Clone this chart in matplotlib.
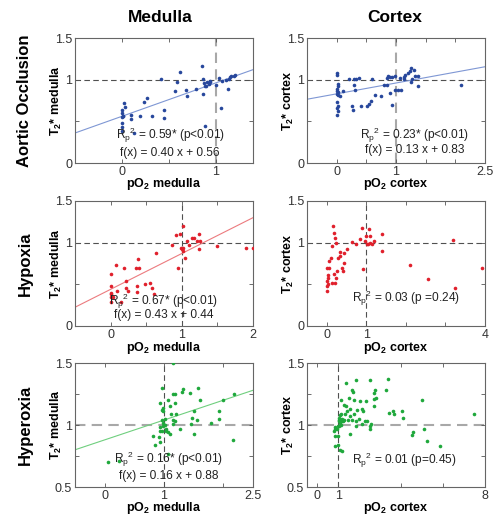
import numpy as np
import matplotlib
matplotlib.use('Agg')
import matplotlib.pyplot as plt
from matplotlib.ticker import FixedLocator, FuncFormatter

plt.rcParams['font.family'] = ['Liberation Sans', 'DejaVu Sans']
plt.rcParams['mathtext.fontset'] = 'custom'
plt.rcParams['mathtext.rm'] = 'Liberation Sans'
plt.rcParams['mathtext.it'] = 'Liberation Sans:italic'
plt.rcParams['mathtext.bf'] = 'Liberation Sans:bold'
plt.rcParams['mathtext.default'] = 'regular'

# ---------------- data ----------------
# aortic occlusion, medulla
ao_med_x = [0.02, 0.03, 0.0, 0.0, 0.01, 0.0, 0.01, 0.0, 0.0, 0.0, 0.10, 0.10, 0.19, 0.32, 0.45,
            0.45, 0.24, 0.27, 0.13, 0.42, 0.57, 0.62, 0.59, 0.68, 0.70, 0.79, 0.87, 0.86, 0.87,
            0.88, 0.89, 0.91, 0.93, 0.94, 0.94, 0.90, 1.00, 1.04, 1.07, 1.06, 0.89, 1.13, 1.11,
            1.14, 1.15, 1.17, 1.20, 1.21]
ao_med_y = [0.72, 0.67, 0.64, 0.60, 0.57, 0.55, 0.56, 0.48, 0.43, 0.39, 0.58, 0.53, 0.56, 0.56, 0.64,
            0.54, 0.73, 0.78, 0.36, 1.01, 0.87, 1.09, 0.97, 0.88, 0.80, 0.89, 0.83, 1.16, 1.01,
            0.96, 0.93, 0.97, 0.95, 0.99, 0.97, 0.92, 0.94, 1.02, 0.99, 0.66, 0.45, 0.89, 1.00,
            1.01, 1.03, 1.04, 1.05, 1.06]
# aortic occlusion, cortex
ao_cor_x = [0, 0, 0.02, 0.02, 0, 0, 0.02, 0, 0.03, 0.06, 0.10, 0, 0.02, 0, 0.02, 0, 0.21, 0.30,
            0.33, 0.37, 0.30, 0.31, 0.60, 0.26, 0.27, 0.41, 0.51, 0.55, 0.58, 0.65, 0.75, 0.80,
            0.85, 0.90, 0.94, 0.85, 0.87, 0.90, 0.94, 0.98, 0.99, 1.04, 1.08, 1.06, 1.13, 1.16,
            1.20, 1.24, 1.25, 1.30, 1.25, 1.27, 1.32, 1.37, 1.37, 2.10, 1.14]
ao_cor_y = [1.08, 1.06, 0.95, 0.92, 0.89, 0.87, 0.85, 0.83, 0.82, 0.80, 0.86, 0.73, 0.69, 0.66,
            0.62, 0.58, 1.01, 1.01, 1.01, 1.02, 0.94, 0.88, 1.01, 0.69, 0.64, 0.68, 0.68, 0.71,
            0.75, 0.82, 0.81, 0.94, 0.94, 0.84, 0.70, 1.02, 1.04, 1.03, 1.03, 1.04, 0.88, 0.88,
            0.88, 1.02, 1.03, 1.06, 1.08, 1.10, 1.14, 1.12, 0.97, 1.01, 1.04, 1.04, 0.93, 0.94,
            1.01]
# hypoxia, medulla
hy_med_x = [0, 0, 0, 0, 0, 0, 0.04, 0.07, 0.09, 0.15, 0.19, 0.22, 0.21, 0.25, 0.36, 0.39, 0.40,
            0.37, 0.37, 0.48, 0.56, 0.58, 0.61, 0.64, 0.86, 0.92, 0.98, 1.01, 0.95, 0.99, 1.00,
            1.02, 1.01, 1.05, 1.07, 1.10, 1.14, 1.17, 1.24, 1.21, 1.26, 1.24, 1.49, 1.90, 2.0]
hy_med_y = [0.62, 0.48, 0.40, 0.38, 0.35, 0.29, 0.35, 0.73, 0.42, 0.29, 0.70, 0.54, 0.46, 0.42,
            0.70, 0.80, 0.70, 0.48, 0.41, 0.50, 0.52, 0.46, 0.39, 0.88, 0.97, 1.09, 1.10, 1.20,
            0.70, 0.94, 0.93, 0.94, 0.90, 0.82, 1.02, 0.97, 1.06, 1.06, 1.10, 1.02, 1.02, 0.93,
            0.96, 0.94, 0.94]
# hypoxia, cortex
hy_cor_x = [0, 0, 0.02, 0, 0.02, 0.03, 0, 0.06, 0.06, 0.10, 0.12, 0.16, 0.17, 0.20, 0.23, 0.17,
            0.23, 0.20, 0.13, 0.27, 0.29, 0.33, 0.34, 0.39, 0.41, 0.44, 0.44, 0.50, 0.65, 0.73,
            0.84, 0.88, 0.92, 0.96, 1.0, 1.01, 1.04, 1.08, 1.10, 1.09, 1.15, 1.19, 1.39, 1.40,
            2.10, 2.56, 3.19, 3.25, 3.92]
hy_cor_y = [0.42, 0.48, 0.50, 0.54, 0.58, 0.61, 0.70, 0.70, 0.78, 0.82, 0.96, 1.20, 1.12, 1.06,
            1.00, 0.62, 0.58, 0.52, 0.52, 0.66, 0.82, 0.84, 0.89, 0.70, 0.66, 0.76, 0.88, 0.92,
            1.01, 0.99, 1.05, 1.18, 0.68, 1.02, 1.08, 0.98, 0.98, 1.17, 1.08, 1.00, 0.99, 1.02,
            1.10, 0.90, 0.73, 0.57, 1.03, 0.46, 0.70]
# hyperoxia, medulla
hr_med_x = [0.06, 0.24, 1.15, 0.97, 0.94, 0.98, 0.96, 0.99, 1.01, 0.97, 0.99, 0.98, 1.01, 1.03,
            0.94, 0.93, 0.97, 1.03, 1.07, 0.91, 0.81, 0.84, 0.94, 1.06, 1.10, 1.07, 1.10, 1.15,
            1.18, 1.18, 1.15, 1.18, 1.21, 1.11, 1.15, 1.27, 1.30, 1.32, 1.44, 1.57, 1.51, 1.45,
            1.48, 1.56, 1.51, 1.61, 1.79, 1.92, 1.92, 1.99, 2.18, 2.16]
hr_med_y = [0.70, 0.71, 1.50, 1.30, 1.18, 1.14, 1.12, 1.11, 1.05, 1.04, 1.02, 0.99, 1.00, 0.97,
            0.98, 0.95, 0.95, 0.95, 0.94, 0.90, 0.91, 0.84, 0.86, 0.77, 0.93, 1.20, 1.15, 1.25,
            1.25, 1.18, 1.04, 1.03, 1.09, 1.09, 1.01, 0.97, 1.27, 1.29, 1.26, 1.30, 1.11, 1.01,
            1.06, 1.04, 0.93, 1.20, 1.02, 1.11, 1.05, 1.20, 1.25, 0.88]
# hyperoxia, cortex
hr_cor_x = [0.86, 0.81, 0.86, 0.94, 0.97, 1.02, 1.10, 1.06, 1.14, 1.17, 1.22, 1.29, 0.86, 0.97,
            0.83, 0.97, 1.06, 1.17, 1.02, 1.06, 1.14, 1.02, 1.02, 1.10, 1.14, 1.38, 1.41, 1.49,
            1.38, 1.65, 1.68, 1.57, 1.57, 1.45, 1.73, 1.85, 1.89, 1.86, 2.00, 2.13, 2.18, 2.05,
            2.29, 2.34, 2.37, 2.50, 2.53, 2.53, 2.69, 2.72, 2.80, 2.74, 2.69, 2.58, 3.29, 3.36,
            3.40, 3.61, 3.67, 4.04, 4.09, 2.13, 1.76, 1.30, 1.25, 1.54, 1.06, 1.65, 1.86, 5.11,
            5.00, 4.57, 4.52, 5.24, 5.87, 7.46]
hr_cor_y = [0.97, 0.95, 0.98, 0.97, 0.99, 0.99, 1.00, 1.02, 1.03, 1.05, 1.03, 1.04, 0.91, 0.91,
            0.83, 0.84, 0.80, 0.79, 1.04, 1.05, 1.09, 1.06, 1.03, 1.20, 1.03, 1.15, 1.11, 1.22,
            1.34, 1.28, 1.27, 1.07, 0.93, 1.04, 1.09, 1.36, 1.12, 1.03, 1.05, 1.13, 1.11, 1.19,
            1.03, 1.19, 1.03, 1.36, 0.99, 0.97, 1.15, 1.21, 1.22, 1.28, 1.26, 1.01, 1.28, 1.37,
            1.10, 1.11, 1.09, 1.11, 1.06, 1.01, 1.20, 1.09, 1.16, 1.13, 1.08, 1.04, 0.99, 0.97,
            1.20, 0.94, 0.92, 0.87, 0.83, 1.09]

row_names = ['Aortic Occlusion', 'Hypoxia', 'Hyperoxia']
col_names = ['Medulla', 'Cortex']
tissue = ['medulla', 'cortex']

# per panel: x data, y data, xlim, xticks, labelled xticks, ylim, yticks, labelled yticks
panels = [
    [ao_med_x, ao_med_y, (-0.5, 1.4), [0, 0.5, 1], [0, 1], (0, 1.5), [0, 0.5, 1, 1.5], [0, 1, 1.5]],
    [ao_cor_x, ao_cor_y, (-0.5, 2.5), [0, 0.5, 1, 1.5, 2, 2.5], [0, 1, 2.5], (0, 1.5), [0, 0.5, 1, 1.5], [0, 1, 1.5]],
    [hy_med_x, hy_med_y, (-0.5, 2.0), [0, 0.5, 1, 1.5, 2], [0, 1, 2], (0, 1.5), [0, 0.5, 1, 1.5], [0, 1, 1.5]],
    [hy_cor_x, hy_cor_y, (-0.5, 4.0), [0, 1, 2, 3, 4], [0, 1, 4], (0, 1.5), [0, 0.5, 1, 1.5], [0, 1, 1.5]],
    [hr_med_x, hr_med_y, (-0.5, 2.5), [0, 1, 2, 2.5], [0, 1, 2.5], (0.5, 1.5), [0.5, 0.75, 1, 1.25, 1.5], [0.5, 1, 1.5]],
    [hr_cor_x, hr_cor_y, (-0.5, 8.0), [0, 1, 4, 6, 8], [0, 1, 8], (0.5, 1.5), [0.5, 0.75, 1, 1.25, 1.5], [0.5, 1, 1.5]],
]
fit_slope = [0.40, 0.13, 0.43, None, 0.16, None]
fit_icpt = [0.56, 0.83, 0.44, None, 0.88, None]
stats_txt = [
    ['R$_p$$^2$ = 0.59* (p<0.01)', 'f(x) = 0.40 x + 0.56'],
    ['R$_p$$^2$ = 0.23* (p<0.01)', 'f(x) = 0.13 x + 0.83'],
    ['R$_p$$^2$ = 0.67* (p<0.01)', 'f(x) = 0.43 x + 0.44'],
    ['R$_p$$^2$ = 0.03 (p =0.24)'],
    ['R$_p$$^2$ = 0.16* (p<0.01)', 'f(x) = 0.16 x + 0.88'],
    ['R$_p$$^2$ = 0.01 (p=0.45)'],
]
txt_pos = [(0.534, 0.224, 0.08), (0.605, 0.224, 0.10), (0.498, 0.2, 0.085),
           (0.555, 0.224, None), (0.526, 0.22, 0.09), (0.545, 0.218, None)]

dot_col = ['#27479c', '#e0202c', '#1fa83c']
line_col = ['#7f97d4', '#ec7b7f', '#6fcf7e']

# dashed reference line style: (vertical, horizontal) -> light & thick or dark & thin
light = dict(color='#a8a8a8', lw=1.5, dashes=(5, 3))
dark = dict(color='#505050', lw=0.8, dashes=(5, 3))
ref_style = [(light, dark), (light, dark), (dark, dark), (dark, dark), (dark, light), (dark, light)]

fig = plt.figure(figsize=(5.02, 5.17), dpi=100)
W, H = 502.0, 517.0
col_left = [75, 307]
row_top = [38, 201, 363]
row_h = [125, 125, 124]
ax_w = 178

for i, p in enumerate(panels):
    r, c = divmod(i, 2)
    xs, ys, xlim, xt, xl, ylim, yt, yl = p
    ax = fig.add_axes([col_left[c] / W, 1 - (row_top[r] + row_h[r]) / H, ax_w / W, row_h[r] / H])
    vs, hs = ref_style[i]
    ax.axvline(1, zorder=1, **vs)
    ax.axhline(1, zorder=1, **hs)
    if fit_slope[i] is not None:
        xx = np.array(xlim)
        ax.plot(xx, fit_slope[i] * xx + fit_icpt[i], color=line_col[r], lw=0.8, zorder=2)
    ax.plot(xs, ys, 'o', ms=2.6, color=dot_col[r], mec='none', zorder=3)
    ax.set_xlim(xlim)
    ax.set_ylim(ylim)
    ax.xaxis.set_major_locator(FixedLocator(xt))
    ax.yaxis.set_major_locator(FixedLocator(yt))
    ax.xaxis.set_major_formatter(FuncFormatter(lambda v, pos, keep=xl: ('%g' % v) if any(abs(v - k) < 1e-9 for k in keep) else ''))
    ax.yaxis.set_major_formatter(FuncFormatter(lambda v, pos, keep=yl: ('%g' % v) if any(abs(v - k) < 1e-9 for k in keep) else ''))
    ax.tick_params(direction='in', top=True, right=True, length=3, width=0.6,
                   colors='#555555', labelcolor='#333333', labelsize=9, pad=2)
    for s in ax.spines.values():
        s.set_color('#666666')
        s.set_linewidth(0.8)
    ax.set_xlabel('pO$_\\mathbf{2}$ ' + tissue[c], fontsize=9, fontweight='bold', va='center')
    ax.set_ylabel('T$_\\mathbf{2}$* ' + tissue[c], fontsize=9, fontweight='bold', va='center')
    ax.xaxis.set_label_coords(0.5, -21.5 / row_h[r])
    ax.yaxis.set_label_coords(-19.0 / ax_w, 0.5)

    tx, ty1, ty2 = txt_pos[i]
    ax.text(tx, ty1, stats_txt[i][0], transform=ax.transAxes, ha='center', va='center', fontsize=8.6, color='#222222')
    if ty2 is not None:
        ax.text(tx, ty2, stats_txt[i][1], transform=ax.transAxes, ha='center', va='center', fontsize=8.6, color='#222222')

# column titles
fig.text(160 / W, 1 - 18 / H, col_names[0], ha='center', va='center', fontsize=12.5, fontweight='bold')
fig.text(395 / W, 1 - 18 / H, col_names[1], ha='center', va='center', fontsize=12.5, fontweight='bold')
# row titles
for r in range(3):
    yc = row_top[r] + row_h[r] / 2.0
    fig.text(25 / W, 1 - yc / H, row_names[r], ha='center', va='center', rotation=90,
             fontsize=12, fontweight='bold')

fig.savefig('out.png', dpi=100)
